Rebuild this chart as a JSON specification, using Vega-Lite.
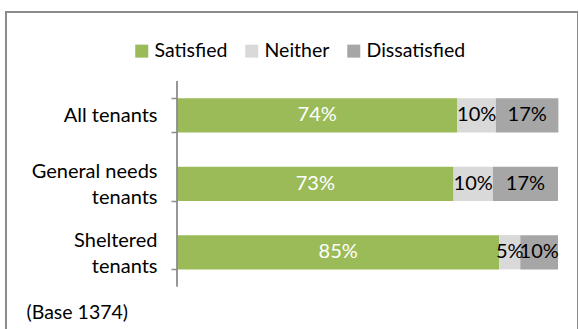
{
  "$schema": "https://vega.github.io/schema/vega-lite/v6.json",
  "width": 572,
  "height": 330,
  "padding": {"left": 6, "top": 12, "right": 0, "bottom": 0},
  "autosize": {"type": "none"},
  "background": "white",
  "data": {
    "values": [
      {"group": "All tenants", "response": "Satisfied", "ord": 1, "value": 73.6, "label": "74%"},
      {"group": "All tenants", "response": "Neither", "ord": 2, "value": 10.1, "label": "10%"},
      {"group": "All tenants", "response": "Dissatisfied", "ord": 3, "value": 16.4, "label": "17%"},
      {"group": "General needs tenants", "response": "Satisfied", "ord": 1, "value": 72.6, "label": "73%"},
      {"group": "General needs tenants", "response": "Neither", "ord": 2, "value": 10.3, "label": "10%"},
      {"group": "General needs tenants", "response": "Dissatisfied", "ord": 3, "value": 17.1, "label": "17%"},
      {"group": "Sheltered tenants", "response": "Satisfied", "ord": 1, "value": 84.6, "label": "85%"},
      {"group": "Sheltered tenants", "response": "Neither", "ord": 2, "value": 5.5, "label": "5%"},
      {"group": "Sheltered tenants", "response": "Dissatisfied", "ord": 3, "value": 9.9, "label": "10%"}
    ]
  },
  "encoding": {
    "y": {
      "field": "group",
      "type": "nominal",
      "sort": ["All tenants", "General needs tenants", "Sheltered tenants"],
      "scale": {"range": [69, 274.5], "paddingInner": 0.5, "paddingOuter": 0.25},
      "axis": {
        "title": null,
        "offset": -171,
        "domain": false,
        "tickBand": "extent",
        "tickSize": 6,
        "tickColor": "#8c8c8c",
        "tickWidth": 1.5,
        "labelPadding": 14,
        "labelFont": "Lato",
        "labelFontSize": 20,
        "labelColor": "#000000",
        "labelLineHeight": 26,
        "labelOffset": {"condition": {"test": "datum.value != 'All tenants'", "value": -12}, "value": 0},
        "labelExpr": "datum.value == 'General needs tenants' ? ['General needs', 'tenants'] : datum.value == 'Sheltered tenants' ? ['Sheltered', 'tenants'] : datum.value"
      }
    }
  },
  "layer": [
    {
      "mark": {"type": "bar"},
      "encoding": {
        "x": {
          "field": "value",
          "type": "quantitative",
          "stack": "zero",
          "scale": {"domain": [-44.88, 105.25], "nice": false, "zero": false},
          "axis": {"title": "(Base 1374)", "domain": false, "ticks": false, "labels": false, "grid": false, "titleX": 20, "titleY": -30, "titleAlign": "left", "titleAnchor": "start", "titleBaseline": "middle", "titleFont": "Lato", "titleFontSize": 19.5, "titleFontWeight": "normal", "titleColor": "#000000"}
        },
        "color": {
          "field": "response",
          "type": "nominal",
          "scale": {"domain": ["Satisfied", "Neither", "Dissatisfied"], "range": ["#9BBB59", "#D9D9D9", "#A6A6A6"]},
          "legend": {
            "title": null,
            "orient": "none",
            "direction": "horizontal",
            "legendX": 126,
            "legendY": 29,
            "symbolType": "square",
            "symbolSize": 169,
            "symbolStrokeWidth": 0,
            "labelFont": "Lato",
            "labelFontSize": 19.5,
            "labelColor": "#000000",
            "labelOffset": 3,
            "columnPadding": 14
          }
        },
        "order": {"field": "ord", "type": "quantitative"}
      }
    },
    {
      "transform": [
        {"stack": "value", "groupby": ["group"], "sort": [{"field": "ord"}], "as": ["x0", "x1"]},
        {"calculate": "(datum.x0 + datum.x1) / 2", "as": "mid"}
      ],
      "mark": {"type": "text", "font": "Lato", "fontSize": 20, "align": "center", "baseline": "middle"},
      "encoding": {
        "x": {
          "field": "mid",
          "type": "quantitative",
          "scale": {"domain": [-44.88, 105.25], "nice": false, "zero": false},
          "axis": {"title": "(Base 1374)", "domain": false, "ticks": false, "labels": false, "grid": false, "titleX": 20, "titleY": -30, "titleAlign": "left", "titleAnchor": "start", "titleBaseline": "middle", "titleFont": "Lato", "titleFontSize": 19.5, "titleFontWeight": "normal", "titleColor": "#000000"}
        },
        "text": {"field": "label"},
        "color": {"condition": {"test": "datum.response === 'Satisfied'", "value": "#ffffff"}, "value": "#000000"}
      }
    },
    {
      "mark": {"type": "tick", "color": "#8c8c8c", "thickness": 1.5, "size": 68.5},
      "encoding": {
        "x": {
          "datum": 0,
          "type": "quantitative",
          "scale": {"domain": [-44.88, 105.25], "nice": false, "zero": false},
          "axis": {"title": "(Base 1374)", "domain": false, "ticks": false, "labels": false, "grid": false, "titleX": 20, "titleY": -30, "titleAlign": "left", "titleAnchor": "start", "titleBaseline": "middle", "titleFont": "Lato", "titleFontSize": 19.5, "titleFontWeight": "normal", "titleColor": "#000000"}
        }
      }
    }
  ],
  "config": {
    "font": "Lato",
    "view": {"stroke": "#8c8c8c", "strokeWidth": 2},
    "axis": {"grid": false}
  }
}
